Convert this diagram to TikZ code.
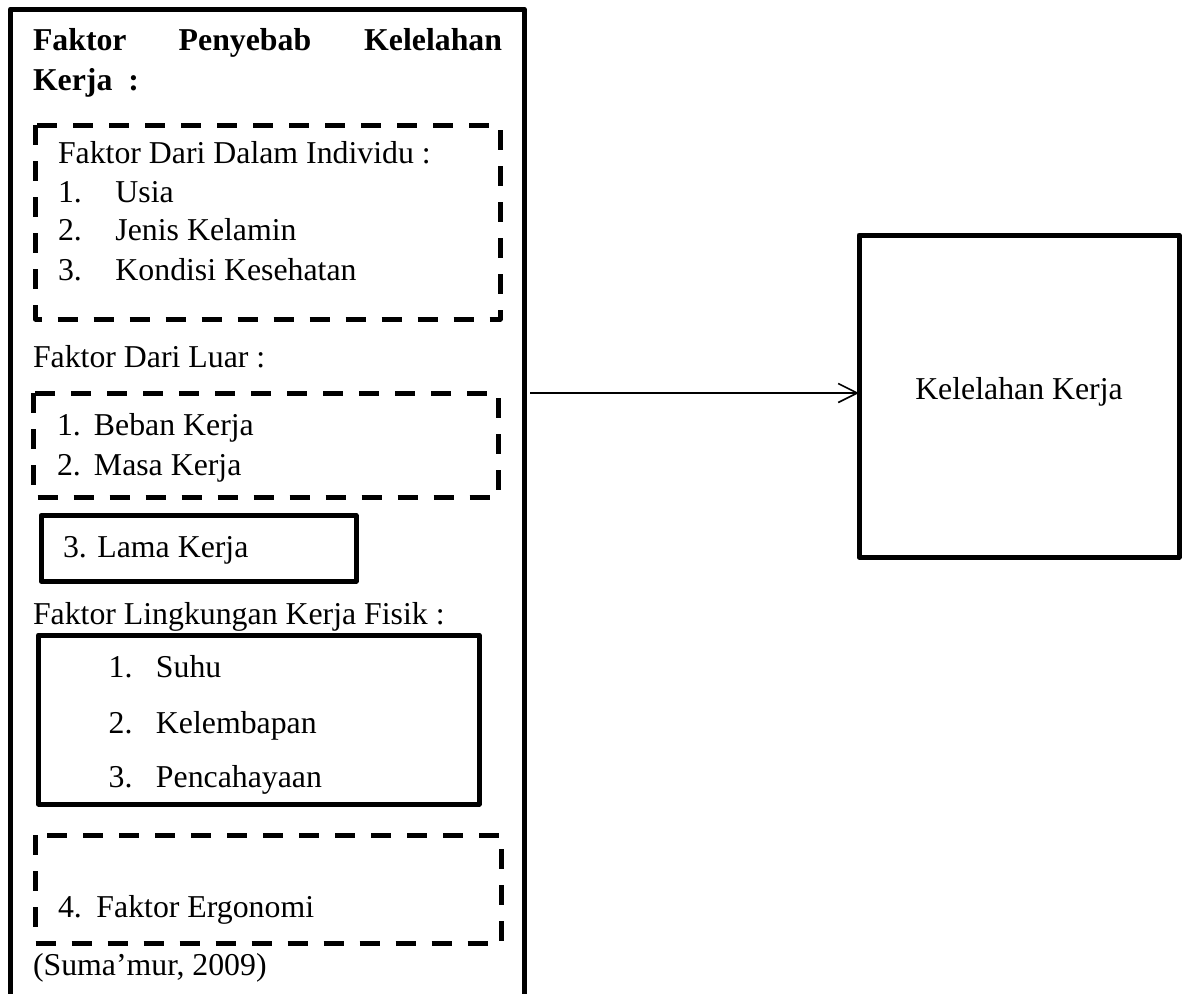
\documentclass[tikz,border=0pt]{standalone}
\usepackage{fontspec}
\setmainfont{Liberation Serif}
\usetikzlibrary{arrows.meta}
\begin{document}
\begin{tikzpicture}[x=1pt,y=-1pt,
  txt/.style={inner sep=0pt, outer sep=0pt, anchor=base west, font=\fontsize{31.8pt}{38pt}\selectfont},
  boldtxt/.style={txt, font=\fontsize{31.8pt}{38pt}\selectfont\bfseries},
  solidbox/.style={draw, line width=5pt, line join=round},
  dashbox/.style={draw, line width=5pt, line join=round, dash pattern=on 20pt off 16pt},
  conn/.style={line width=1.6pt, -{Straight Barb[length=19pt,width=19pt,line width=1.6pt]}}]
\useasboundingbox (0,0) rectangle (1187,994);
\fill[white] (0,0) rectangle (1187,994);

% outer frame (open below the page edge)
\draw[solidbox] (10.5,1010) -- (10.5,9) -- (524,9) -- (524,1010);
\coordinate (astart) at (530,393);

% title
\node[boldtxt] (t1) at (33,50) {Faktor};
\node[boldtxt, anchor=base] (t2) at (245,50) {Penyebab};
\node[boldtxt, anchor=base east] (t3) at (502,50) {Kelelahan};
\node[boldtxt] (t4) at (33,90) {Kerja~~:};

% dashed box 1
\draw[dashbox] (35.5,125) rectangle (500,319);
\node[txt] (d0) at (58,163) {Faktor Dari Dalam Individu :};
\node[txt] (d1) at (58,202) {\makebox[57.5pt][l]{1.}Usia};
\node[txt] (d2) at (58,240) {\makebox[57.5pt][l]{2.}Jenis Kelamin};
\node[txt] (d3) at (58,280) {\makebox[57.5pt][l]{3.}Kondisi Kesehatan};

% luar
\node[txt] (l0) at (33,367) {Faktor Dari Luar :};
\draw[dashbox] (33.5,393) rectangle (498,497);
\node[txt] (l1) at (57,435) {\makebox[37pt][l]{1.}Beban Kerja};
\node[txt] (l2) at (57,475) {\makebox[37pt][l]{2.}Masa Kerja};
\draw[solidbox] (41,515.5) rectangle (356,581);
\node[txt] (l3) at (63,557) {3. Lama Kerja};

% fisik
\node[txt] (f0) at (33,624) {Faktor Lingkungan Kerja Fisik :};
\draw[solidbox] (38.5,635) rectangle (479,804);
\node[txt] (f1) at (108.6,677) {\makebox[47.4pt][l]{1.}Suhu};
\node[txt] (f2) at (108.6,733) {\makebox[47.4pt][l]{2.}Kelembapan};
\node[txt] (f3) at (108.6,787) {\makebox[47.4pt][l]{3.}Pencahayaan};

% ergonomi
\draw[dashbox] (35.5,835) rectangle (501,943);
\node[txt] (e1) at (58,917) {\makebox[38.5pt][l]{4.}Faktor Ergonomi};

\node[txt] (src) at (33,975) {(Suma’mur, 2009)};

% right box
\node[solidbox, minimum width=320pt, minimum height=322pt, inner sep=0pt, outer sep=0pt] (kk) at (1019,396) {};
\node[txt, anchor=base] (kklabel) at (1019,399) {Kelelahan Kerja};

\draw[conn] (astart) -- (kk.west |- astart);
\end{tikzpicture}
\end{document}
